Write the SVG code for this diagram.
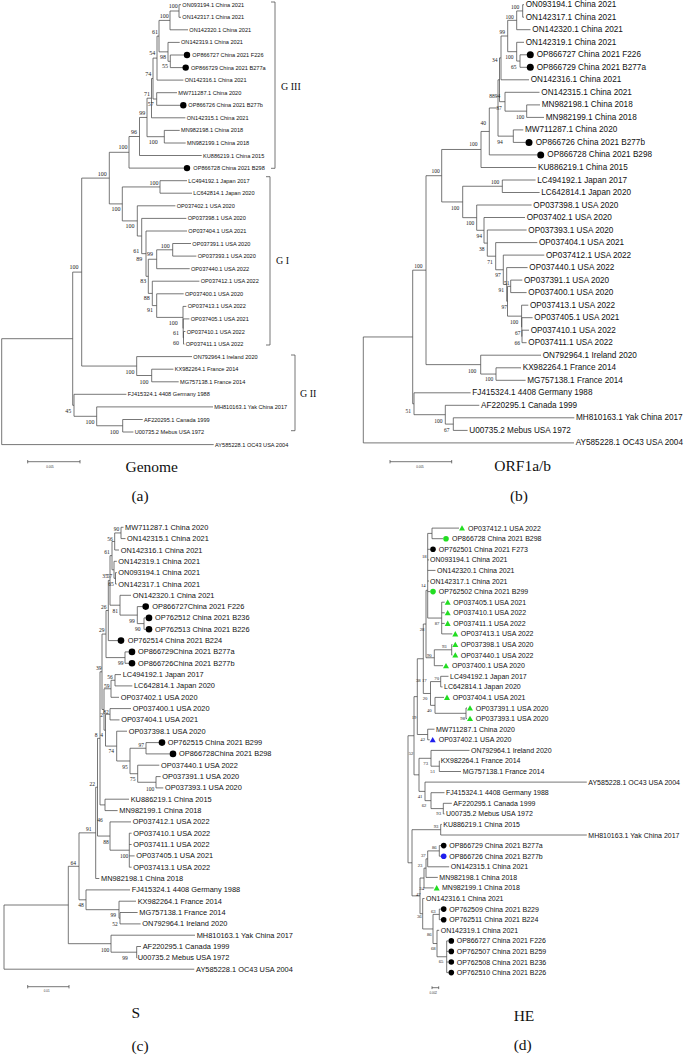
<svg xmlns="http://www.w3.org/2000/svg" width="685" height="1055" viewBox="0 0 685 1055">
<style>
.t{fill:none;stroke:#4a4a4a;stroke-width:0.75}
.la,.lb,.lc,.ld{font-family:"Liberation Sans",Arial,sans-serif;fill:#111;dominant-baseline:central}
.la{font-size:5.6px}.lb{font-size:8.2px}.lc{font-size:7.4px}.ld{font-size:7px}
.bs{font-family:"Liberation Serif","Times New Roman",serif;fill:#222;text-anchor:middle;dominant-baseline:central}
.ba{font-size:6px}.bb{font-size:5.5px}.bc{font-size:5.5px}.bd{font-size:4.7px}
.cap{font-family:"Liberation Serif","Times New Roman",serif;font-size:15.5px;fill:#111;text-anchor:middle;dominant-baseline:central}
.grp{font-family:"Liberation Serif","Times New Roman",serif;font-size:10px;fill:#111;dominant-baseline:central}
.sc{font-family:"Liberation Sans",Arial,sans-serif;font-size:3px;fill:#333;text-anchor:middle;dominant-baseline:central}
.k{fill:#000}.g{fill:#22dd22}.bl{fill:#1f1fee}
</style>
<defs><path id="tri" d="M0-2.8L3 2.5H-3Z"/></defs>
<rect width="685" height="1055" fill="#fff"/>

<g id="connectors">
<path class="t" d="M179 4.7V17.3M179 4.7H181M179 17.3H181M170 11V29.8M170 11H179M170 29.8H188M170.3 55V67.6M170.3 55H184M170.3 67.6H183M168 42.4V61.3M168 42.4H179.7M168 61.3H170.3M159 20.4V51.85M159 20.4H170M159 51.85H168M157 36.1V80.1M157 36.1H159M157 80.1H183.4M156.7 92.7V105.3M156.7 92.7H177M156.7 105.3H180.5M153 58.1V99M153 58.1H157M153 99H156.7M151.5 78.55V117.8M151.5 78.55H153M151.5 117.8H185.4M164.3 130.4V143M164.3 130.4H179.7M164.3 143H185.7M147 98.2V136.7M147 98.2H151.5M147 136.7H164.3M139.5 117.45V155.5M139.5 117.45H147M139.5 155.5H201.7M129 136.5V168.1M129 136.5H139.5M129 168.1H184M160 180.7V193.2M160 180.7H187M160 193.2H192M172.7 243.5V256.1M172.7 243.5H191M172.7 256.1H196.4M156.7 249.8V268.7M156.7 249.8H172.7M156.7 268.7H189.7M183.5 331.5V344.1M183.5 331.5H185.4M183.5 344.1H184.4M183.2 318.9V337.8M183.2 318.9H189.4M183.2 337.8H183.5M183 306.4V328.35M183 306.4H186.4M183 328.35H183.2M156.7 293.8V317.4M156.7 293.8H183.7M156.7 317.4H183M152.3 281.2V305.6M152.3 281.2H199.4M152.3 305.6H156.7M148.3 259.25V293.4M148.3 259.25H156.7M148.3 293.4H152.3M146 231V276.3M146 231H187M146 276.3H148.3M141.7 218.4V253.65M141.7 218.4H186.4M141.7 253.65H146M137.3 205.8V236M137.3 205.8H175.4M137.3 236H141.7M122.3 186.95V220.9M122.3 186.95H160M122.3 220.9H137.3M109.3 152.3V203.9M109.3 152.3H129M109.3 203.9H122.3M151.7 369.2V381.8M151.7 369.2H173.4M151.7 381.8H178.7M136.7 356.6V375.5M136.7 356.6H192M136.7 375.5H151.7M81.7 178.1V366.05M81.7 178.1H109.3M81.7 366.05H136.7M122.7 419.5V432M122.7 419.5H142.7M122.7 432H133.4M96.7 406.9V425.75M96.7 406.9H213M96.7 425.75H122.7M74 394.3V416.3M74 394.3H126.4M74 416.3H96.7M72.7 272.1V405.3M72.7 272.1H81.7M72.7 405.3H74M1.7 338.7V444.6M1.7 338.7H72.7M1.7 444.6H213.7"/>
<path class="t" d="M271 2H275V168.3H271M266 176.7H270V345H266M291 355H295V430.7H291"/>
<path class="t" d="M27.7 461.7H80M27.7 460V463.4M80 460V463.4"/>

<path class="t" d="M522.7 4.7V17.2M522.7 4.7H524M522.7 17.2H524M516.7 10.95V29.7M516.7 10.95H522.7M516.7 29.7H530.5M520 54.8V67.3M520 54.8H527M520 67.3H527M516.7 42.3V61.05M516.7 42.3H524M516.7 61.05H520M507.7 20.33V51.68M507.7 20.33H516.7M507.7 51.68H516.7M501 36V79.8M501 36H507.7M501 79.8H529M526.7 104.9V117.4M526.7 104.9H540M526.7 117.4H544M505 92.3V111.15M505 92.3H539.5M505 111.15H526.7M499.5 57.9V101.7M499.5 57.9H501M499.5 101.7H505M513.3 129.9V142.4M513.3 129.9H523.3M513.3 142.4H525.7M498 79.8V136.15M498 79.8H499.5M498 136.15H513.3M489.3 107.98V154.9M489.3 107.98H498M489.3 154.9H537.4M481 131.44V167.5M481 131.44H489.3M481 167.5H536.3M502.3 180V192.5M502.3 180H535.6M502.3 192.5H539.6M522 330.2V342.7M522 330.2H529M522 342.7H526.6M521.8 317.7V336.45M521.8 317.7H532.6M521.8 336.45H522M521.6 305.2V327.1M521.6 305.2H528.3M521.6 327.1H521.8M510.7 280.1V292.6M510.7 280.1H522.3M510.7 292.6H526.6M507.5 286.35V316.15M507.5 286.35H510.7M507.5 316.15H521.6M506.7 267.6V301.25M506.7 267.6H527.6M506.7 301.25H507.5M503.3 255.1V284.4M503.3 255.1H544.3M503.3 284.4H506.7M495.7 242.6V269.75M495.7 242.6H537.3M495.7 269.75H503.3M487.3 230V256.2M487.3 230H526.6M487.3 256.2H495.7M484 217.5V243.1M484 217.5H525M484 243.1H487.3M476.7 205V230.3M476.7 205H531.6M476.7 230.3H484M462.7 186.25V217.65M462.7 186.25H502.3M462.7 217.65H476.7M441.7 149.47V201.95M441.7 149.47H481M441.7 201.95H462.7M496 367.8V380.3M496 367.8H521M496 380.3H525.6M480.7 355.2V374.05M480.7 355.2H541M480.7 374.05H496M426 175.71V364.63M426 175.71H441.7M426 364.63H480.7M453.3 417.8V430.4M453.3 417.8H574.3M453.3 430.4H467.6M445.3 405.3V424.1M445.3 405.3H479.3M445.3 424.1H453.3M414 392.8V414.7M414 392.8H470.6M414 414.7H445.3M412.7 270.17V403.75M412.7 270.17H426M412.7 403.75H414M363.3 336.96V442.9M363.3 336.96H412.7M363.3 442.9H574"/>
<path class="t" d="M390 461.7H451.7M390 460V463.4M451.7 460V463.4"/>

<path class="t" d="M121 527.3V538.6M121 527.3H123.5M121 538.6H125.5M114.7 532.95V550M114.7 532.95H121M114.7 550H119M115.5 572.6V584M115.5 572.6H116.8M115.5 584H116.8M114 561.3V578.3M114 561.3H116.8M114 578.3H115.5M112 541.48V569.8M112 541.48H114.7M112 569.8H114M144 617.9V629.3M144 617.9H146M144 629.3H146M137.3 606.6V623.6M137.3 606.6H142.7M137.3 623.6H144M120 595.3V615.1M120 595.3H131M120 615.1H137.3M110 555.64V605.2M110 555.64H112M110 605.2H120M108.3 580.42V640.6M108.3 580.42H110M108.3 640.6H118M125 651.9V663.3M125 651.9H129M125 663.3H129M106 610.51V657.6M106 610.51H108.3M106 657.6H125M115 674.6V685.9M115 674.6H121M115 685.9H132.3M111 680.25V697.3M111 680.25H115M111 697.3H119M110 708.6V719.9M110 708.6H131M110 719.9H119.5M156 776.6V787.9M156 776.6H160.6M156 787.9H163.3M137.7 765.2V782.25M137.7 765.2H159.3M137.7 782.25H156M146 742.6V753.9M146 742.6H159M146 753.9H170M130 748.25V773.73M130 748.25H146M130 773.73H137.7M116.7 731.2V760.99M116.7 731.2H127M116.7 760.99H130M105.5 714.25V746.1M105.5 714.25H110M105.5 746.1H116.7M104 688.78V730.17M104 688.78H111M104 730.17H105.5M102 634.06V709.48M102 634.06H106M102 709.48H104M105 799.2V810.6M105 799.2H129M105 810.6H117.6M100 671.77V804.9M100 671.77H102M100 804.9H105M129.3 833.2V867.2M129.3 833.2H131.6M129.3 844.5H131.6M129.3 855.9H134.6M129.3 867.2H131.6M110 821.9V850.2M110 821.9H131M110 850.2H129.3M97.5 738.34V836.05M97.5 738.34H100M97.5 836.05H110M95.7 787.2V878.5M95.7 787.2H97.5M95.7 878.5H99.3M120 912.5V923.9M120 912.5H137.6M120 923.9H140.6M119 901.2V918.2M119 901.2H136M119 918.2H120M86 889.9V909.7M86 889.9H130M86 909.7H119M79 832.85V899.8M79 832.85H95.7M79 899.8H86M136.7 946.5V957.9M136.7 946.5H141M136.7 957.9H137.3M111 935.2V952.2M111 935.2H195M111 952.2H136.7M68.3 866.3V943.7M68.3 866.3H79M68.3 943.7H111M4 905V969.2M4 905H68.3M4 969.2H194.3"/>
<path class="t" d="M27.7 986.7H69M27.7 985V988.4M69 985V988.4"/>

<path class="t" d="M432 528.1V538.7M432 528.1H459M432 538.7H443M427.7 533.4V618.05M427.7 533.4H432M427.7 549.3H430M427.7 559.9H429M427.7 570.4H435.5M427.7 581H429M427.7 591.6H430M441.7 602.2V633.9M441.7 602.2H444.7M441.7 612.8H444.7M441.7 623.4H444.7M441.7 633.9H452.3M427.7 618.05H441.7M451.7 644.5V655.1M451.7 644.5H452.3M451.7 655.1H452.3M434.3 649.8V665.7M434.3 649.8H451.7M434.3 665.7H443M426 590.3V657.75M426 590.3H427.7M426 657.75H434.3M440.7 676.3V686.9M440.7 676.3H448.5M440.7 686.9H442.5M466 708V718.6M466 708H467M466 718.6H467M435 697.4V713.3M435 697.4H444M435 713.3H466M430.5 681.6V705.35M430.5 681.6H440.7M430.5 705.35H435M423.3 624.02V693.48M423.3 624.02H426M423.3 693.48H430.5M427.7 729.2V739.8M427.7 729.2H434.5M427.7 739.8H429.7M417.3 658.75V734.5M417.3 658.75H423.3M417.3 734.5H427.7M439.3 760.9V771.5M439.3 760.9H439.6M439.3 771.5H461M431 750.4V766.2M431 750.4H469.5M431 766.2H439.3M443.3 803.3V813.9M443.3 803.3H451.8M443.3 813.9H444.5M431 792.7V808.6M431 792.7H444.5M431 808.6H443.3M425 782.1V800.65M425 782.1H586.8M425 800.65H431M419 758.3V791.38M419 758.3H431M419 791.38H425M414 696.63V774.84M414 696.63H417.3M414 774.84H419M440.7 824.4V835M440.7 824.4H441.8M440.7 835H586.8M439.3 845.6V856.2M439.3 845.6H440.9M439.3 856.2H440.9M427.7 850.9V866.8M427.7 850.9H439.3M427.7 866.8H449.2M426 858.85V877.4M426 858.85H427.7M426 877.4H437.8M424 868.13V887.9M424 868.13H426M424 887.9H433.7M439.3 909.1V919.7M439.3 909.1H440.9M439.3 919.7H440.9M446.7 940.9V972.6M446.7 940.9H448.5M446.7 951.4H448.5M446.7 962H448.5M446.7 972.6H448.5M437 930.3V956.75M437 930.3H439.2M437 956.75H446.7M433 914.4V943.53M433 914.4H439.3M433 943.53H437M422.7 898.5V928.96M422.7 898.5H424.5M422.7 928.96H433M420 878.02V913.73M420 878.02H424M420 913.73H422.7M412 829.7V895.87M412 829.7H440.7M412 895.87H420M408 735.74V862.79M408 735.74H414M408 862.79H412"/>
<path class="t" d="M432 987.7H438.7M432 986.3V989.1M438.7 986.3V989.1"/>
</g>

<g id="panel-a">
<g id="a1"><text class="la" x="182.3" y="4.7">ON093194.1 China 2021</text></g>
<g id="a2"><text class="la" x="182.3" y="17.3">ON142317.1 China 2021</text></g>
<g id="a3"><text class="la" x="189.3" y="29.8">ON142320.1 China 2021</text></g>
<g id="a4"><text class="la" x="181" y="42.4">ON142319.1 China 2021</text></g>
<g id="a5"><circle class="k" cx="187" cy="55" r="3.2"/><text class="la" x="192.3" y="55">OP866727 China 2021 F226</text></g>
<g id="a6"><circle class="k" cx="185.7" cy="67.6" r="3.2"/><text class="la" x="191" y="67.6">OP866729 China 2021 B277a</text></g>
<g id="a7"><text class="la" x="184.7" y="80.1">ON142316.1 China 2021</text></g>
<g id="a8"><text class="la" x="178.3" y="92.7">MW711287.1 China 2020</text></g>
<g id="a9"><circle class="k" cx="183.3" cy="105.3" r="3.2"/><text class="la" x="188.3" y="105.3">OP866726 China 2021 B277b</text></g>
<g id="a10"><text class="la" x="186.7" y="117.8">ON142315.1 China 2021</text></g>
<g id="a11"><text class="la" x="181" y="130.4">MN982198.1 China 2018</text></g>
<g id="a12"><text class="la" x="187" y="143">MN982199.1 China 2018</text></g>
<g id="a13"><text class="la" x="203" y="155.5">KU886219.1 China 2015</text></g>
<g id="a14"><circle class="k" cx="187" cy="168.1" r="3.2"/><text class="la" x="193.3" y="168.1">OP866728 China 2021 B298</text></g>
<g id="a15"><text class="la" x="188.3" y="180.7">LC494192.1 Japan 2017</text></g>
<g id="a16"><text class="la" x="193.3" y="193.2">LC642814.1 Japan 2020</text></g>
<g id="a17"><text class="la" x="176.7" y="205.8">OP037402.1 USA 2020</text></g>
<g id="a18"><text class="la" x="187.7" y="218.4">OP037398.1 USA 2020</text></g>
<g id="a19"><text class="la" x="188.3" y="231">OP037404.1 USA 2021</text></g>
<g id="a20"><text class="la" x="192.3" y="243.5">OP037391.1 USA 2020</text></g>
<g id="a21"><text class="la" x="197.7" y="256.1">OP037393.1 USA 2020</text></g>
<g id="a22"><text class="la" x="191" y="268.7">OP037440.1 USA 2022</text></g>
<g id="a23"><text class="la" x="200.7" y="281.2">OP037412.1 USA 2022</text></g>
<g id="a24"><text class="la" x="185" y="293.8">OP037400.1 USA 2020</text></g>
<g id="a25"><text class="la" x="187.7" y="306.4">OP037413.1 USA 2022</text></g>
<g id="a26"><text class="la" x="190.7" y="318.9">OP037405.1 USA 2021</text></g>
<g id="a27"><text class="la" x="186.7" y="331.5">OP037410.1 USA 2022</text></g>
<g id="a28"><text class="la" x="185.7" y="344.1">OP037411.1 USA 2022</text></g>
<g id="a29"><text class="la" x="193.3" y="356.6">ON792964.1 Ireland 2020</text></g>
<g id="a30"><text class="la" x="174.7" y="369.2">KX982264.1 France 2014</text></g>
<g id="a31"><text class="la" x="180" y="381.8">MG757138.1 France 2014</text></g>
<g id="a32"><text class="la" x="127.7" y="394.3">FJ415324.1 4408 Germany 1988</text></g>
<g id="a33"><text class="la" x="214.3" y="406.9">MH810163.1 Yak China 2017</text></g>
<g id="a34"><text class="la" x="144" y="419.5">AF220295.1 Canada 1999</text></g>
<g id="a35"><text class="la" x="134.7" y="432">U00735.2 Mebus USA 1972</text></g>
<g id="a36"><text class="la" x="215" y="444.6">AY585228.1 OC43 USA 2004</text></g>
<g id="a-boot" class="bs ba">
<text x="173.3" y="6">100</text><text x="164.3" y="15.7">100</text><text x="155" y="31.7">61</text><text x="152.3" y="53.3">54</text><text x="163" y="56.7">98</text><text x="165" y="65.7">55</text><text x="148.3" y="74">74</text><text x="147" y="94.3">71</text><text x="150.7" y="104.3">57</text><text x="142.3" y="113">99</text><text x="153.3" y="142.3">100</text><text x="134" y="132">96</text><text x="123" y="147.3">100</text><text x="102.3" y="173.7">100</text><text x="154" y="182.7">100</text><text x="116" y="209">100</text><text x="130" y="226.3">100</text><text x="136.3" y="250.7">61</text><text x="150" y="254.3">99</text><text x="139.3" y="258.7">89</text><text x="165.3" y="246">100</text><text x="143.3" y="280.7">83</text><text x="146.7" y="297.7">88</text><text x="150" y="310">91</text><text x="173.3" y="323">100</text><text x="176" y="333.3">61</text><text x="176" y="342.7">60</text><text x="74" y="267.3">100</text><text x="130" y="371.7">100</text><text x="144" y="381.7">100</text><text x="68.3" y="411">45</text><text x="90" y="421.7">100</text><text x="114.3" y="431.7">100</text>
</g>
<g id="a-groups"><text class="grp" x="281" y="86">G III</text><text class="grp" x="276" y="260">G I</text><text class="grp" x="300" y="393">G II</text></g>
<text class="sc" x="50" y="466.7">0.005</text>
<text class="cap" x="151.7" y="466.7">Genome</text>
<text class="cap" x="140" y="495">(a)</text>
</g>

<g id="panel-b">
<g id="b1"><text class="lb" x="525.7" y="4.7">ON093194.1 China 2021</text></g>
<g id="b2"><text class="lb" x="525.7" y="17.2">ON142317.1 China 2021</text></g>
<g id="b3"><text class="lb" x="532.3" y="29.7">ON142320.1 China 2021</text></g>
<g id="b4"><text class="lb" x="525.7" y="42.3">ON142319.1 China 2021</text></g>
<g id="b5"><circle class="k" cx="530.3" cy="54.8" r="3.5"/><text class="lb" x="536.7" y="54.8">OP866727 China 2021 F226</text></g>
<g id="b6"><circle class="k" cx="530.3" cy="67.3" r="3.5"/><text class="lb" x="536.7" y="67.3">OP866729 China 2021 B277a</text></g>
<g id="b7"><text class="lb" x="530.7" y="79.8">ON142316.1 China 2021</text></g>
<g id="b8"><text class="lb" x="541.3" y="92.3">ON142315.1 China 2021</text></g>
<g id="b9"><text class="lb" x="541.7" y="104.9">MN982198.1 China 2018</text></g>
<g id="b10"><text class="lb" x="545.7" y="117.4">MN982199.1 China 2018</text></g>
<g id="b11"><text class="lb" x="525" y="129.9">MW711287.1 China 2020</text></g>
<g id="b12"><circle class="k" cx="529" cy="142.4" r="3.5"/><text class="lb" x="535.7" y="142.4">OP866726 China 2021 B277b</text></g>
<g id="b13"><circle class="k" cx="540.7" cy="154.9" r="3.5"/><text class="lb" x="547.3" y="154.9">OP866728 China 2021 B298</text></g>
<g id="b14"><text class="lb" x="538" y="167.5">KU886219.1 China 2015</text></g>
<g id="b15"><text class="lb" x="537.3" y="180">LC494192.1 Japan 2017</text></g>
<g id="b16"><text class="lb" x="541.3" y="192.5">LC642814.1 Japan 2020</text></g>
<g id="b17"><text class="lb" x="533.3" y="205">OP037398.1 USA 2020</text></g>
<g id="b18"><text class="lb" x="526.7" y="217.5">OP037402.1 USA 2020</text></g>
<g id="b19"><text class="lb" x="528.3" y="230">OP037393.1 USA 2020</text></g>
<g id="b20"><text class="lb" x="539" y="242.6">OP037404.1 USA 2021</text></g>
<g id="b21"><text class="lb" x="546" y="255.1">OP037412.1 USA 2022</text></g>
<g id="b22"><text class="lb" x="529.3" y="267.6">OP037440.1 USA 2022</text></g>
<g id="b23"><text class="lb" x="524" y="280.1">OP037391.1 USA 2020</text></g>
<g id="b24"><text class="lb" x="528.3" y="292.6">OP037400.1 USA 2020</text></g>
<g id="b25"><text class="lb" x="530" y="305.2">OP037413.1 USA 2022</text></g>
<g id="b26"><text class="lb" x="534.3" y="317.7">OP037405.1 USA 2021</text></g>
<g id="b27"><text class="lb" x="530.7" y="330.2">OP037410.1 USA 2022</text></g>
<g id="b28"><text class="lb" x="528.3" y="342.7">OP037411.1 USA 2022</text></g>
<g id="b29"><text class="lb" x="542.7" y="355.2">ON792964.1 Ireland 2020</text></g>
<g id="b30"><text class="lb" x="522.7" y="367.8">KX982264.1 France 2014</text></g>
<g id="b31"><text class="lb" x="527.3" y="380.3">MG757138.1 France 2014</text></g>
<g id="b32"><text class="lb" x="472.3" y="392.8">FJ415324.1 4408 Germany 1988</text></g>
<g id="b33"><text class="lb" x="481" y="405.3">AF220295.1 Canada 1999</text></g>
<g id="b34"><text class="lb" x="576" y="417.8">MH810163.1 Yak China 2017</text></g>
<g id="b35"><text class="lb" x="469.3" y="430.4">U00735.2 Mebus USA 1972</text></g>
<g id="b36"><text class="lb" x="575.7" y="442.9">AY585228.1 OC43 USA 2004</text></g>
<g id="b-boot" class="bs bb">
<text x="515" y="6.7">100</text><text x="509.7" y="16.7">100</text><text x="502.3" y="32">99</text><text x="494.7" y="59.7">34</text><text x="509.3" y="57.3">100</text><text x="513.7" y="66.7">65</text><text x="492" y="95.7">88</text><text x="497.5" y="95.7">94</text><text x="499" y="107.7">37</text><text x="520" y="116.7">100</text><text x="483.3" y="123.3">40</text><text x="500" y="141.7">94</text><text x="473.3" y="144">100</text><text x="435.7" y="170.7">100</text><text x="495" y="182.3">100</text><text x="455" y="207.7">100</text><text x="470" y="223.3">100</text><text x="479.3" y="236">94</text><text x="481.7" y="248.7">38</text><text x="490" y="262">71</text><text x="498" y="275.3">97</text><text x="506.7" y="283.3">51</text><text x="501.3" y="290.3">91</text><text x="504.3" y="307">97</text><text x="514" y="321.7">100</text><text x="517.7" y="333">67</text><text x="517.3" y="343.3">66</text><text x="418.3" y="266">100</text><text x="472" y="370.7">100</text><text x="489" y="379.3">100</text><text x="408.3" y="411">51</text><text x="438.3" y="421">100</text><text x="446.7" y="430">67</text>
</g>
<text class="sc" x="420" y="467">0.005</text>
<text class="cap" x="522.7" y="465">ORF1a/b</text>
<text class="cap" x="519" y="495">(b)</text>
</g>

<g id="panel-c">
<g id="c1"><text class="lc" x="125" y="527.3">MW711287.1 China 2020</text></g>
<g id="c2"><text class="lc" x="127" y="538.6">ON142315.1 China 2021</text></g>
<g id="c3"><text class="lc" x="120.7" y="550">ON142316.1 China 2021</text></g>
<g id="c4"><text class="lc" x="118.3" y="561.3">ON142319.1 China 2021</text></g>
<g id="c5"><text class="lc" x="118.3" y="572.6">ON093194.1 China 2021</text></g>
<g id="c6"><text class="lc" x="118.3" y="584">ON142317.1 China 2021</text></g>
<g id="c7"><text class="lc" x="132.7" y="595.3">ON142320.1 China 2021</text></g>
<g id="c8"><circle class="k" cx="145.7" cy="606.6" r="3.3"/><text class="lc" x="152.3" y="606.6">OP866727China 2021 F226</text></g>
<g id="c9"><circle class="k" cx="149" cy="617.9" r="3.3"/><text class="lc" x="155" y="617.9">OP762512 China 2021 B236</text></g>
<g id="c10"><circle class="k" cx="149" cy="629.3" r="3.3"/><text class="lc" x="155" y="629.3">OP762513 China 2021 B226</text></g>
<g id="c11"><circle class="k" cx="121" cy="640.6" r="3.3"/><text class="lc" x="127.7" y="640.6">OP762514 China 2021 B224</text></g>
<g id="c12"><circle class="k" cx="132" cy="651.9" r="3.3"/><text class="lc" x="138" y="651.9">OP866729China 2021 B277a</text></g>
<g id="c13"><circle class="k" cx="132" cy="663.3" r="3.3"/><text class="lc" x="138" y="663.3">OP866726China 2021 B277b</text></g>
<g id="c14"><text class="lc" x="122.7" y="674.6">LC494192.1 Japan 2017</text></g>
<g id="c15"><text class="lc" x="134" y="685.9">LC642814.1 Japan 2020</text></g>
<g id="c16"><text class="lc" x="120.7" y="697.3">OP037402.1 USA 2020</text></g>
<g id="c17"><text class="lc" x="132.7" y="708.6">OP037400.1 USA 2020</text></g>
<g id="c18"><text class="lc" x="121.2" y="719.9">OP037404.1 USA 2021</text></g>
<g id="c19"><text class="lc" x="128.7" y="731.2">OP037398.1 USA 2020</text></g>
<g id="c20"><circle class="k" cx="162" cy="742.6" r="3.3"/><text class="lc" x="167.7" y="742.6">OP762515 China 2021 B299</text></g>
<g id="c21"><circle class="k" cx="173" cy="753.9" r="3.3"/><text class="lc" x="179" y="753.9">OP866728China 2021 B298</text></g>
<g id="c22"><text class="lc" x="161" y="765.2">OP037440.1 USA 2022</text></g>
<g id="c23"><text class="lc" x="162.3" y="776.6">OP037391.1 USA 2020</text></g>
<g id="c24"><text class="lc" x="165" y="787.9">OP037393.1 USA 2020</text></g>
<g id="c25"><text class="lc" x="130.7" y="799.2">KU886219.1 China 2015</text></g>
<g id="c26"><text class="lc" x="119.3" y="810.6">MN982199.1 China 2018</text></g>
<g id="c27"><text class="lc" x="132.7" y="821.9">OP037412.1 USA 2022</text></g>
<g id="c28"><text class="lc" x="133.3" y="833.2">OP037410.1 USA 2022</text></g>
<g id="c29"><text class="lc" x="133.3" y="844.5">OP037411.1 USA 2022</text></g>
<g id="c30"><text class="lc" x="136.3" y="855.9">OP037405.1 USA 2021</text></g>
<g id="c31"><text class="lc" x="133.3" y="867.2">OP037413.1 USA 2022</text></g>
<g id="c32"><text class="lc" x="101" y="878.5">MN982198.1 China 2018</text></g>
<g id="c33"><text class="lc" x="131.7" y="889.9">FJ415324.1 4408 Germany 1988</text></g>
<g id="c34"><text class="lc" x="137.7" y="901.2">KX982264.1 France 2014</text></g>
<g id="c35"><text class="lc" x="139.3" y="912.5">MG757138.1 France 2014</text></g>
<g id="c36"><text class="lc" x="142.3" y="923.9">ON792964.1 Ireland 2020</text></g>
<g id="c37"><text class="lc" x="196.7" y="935.2">MH810163.1 Yak China 2017</text></g>
<g id="c38"><text class="lc" x="142.7" y="946.5">AF220295.1 Canada 1999</text></g>
<g id="c39"><text class="lc" x="137.7" y="957.9">U00735.2 Mebus USA 1972</text></g>
<g id="c40"><text class="lc" x="196" y="969.2">AY585228.1 OC43 USA 2004</text></g>
<g id="c-boot" class="bs bc">
<text x="116.5" y="529">90</text><text x="110" y="538.5">56</text><text x="107" y="552.3">61</text><text x="105" y="575.7">35</text><text x="109.5" y="575.7">57</text><text x="111" y="583.7">65</text><text x="103.7" y="607">26</text><text x="115.3" y="610.7">81</text><text x="132" y="620.7">99</text><text x="137.7" y="629.3">90</text><text x="101.7" y="630">29</text><text x="120.7" y="662.7">99</text><text x="98.7" y="668">39</text><text x="110" y="676.7">56</text><text x="106.7" y="685.7">59</text><text x="106" y="711.7">82</text><text x="101.5" y="714.5">2</text><text x="101.7" y="735">4</text><text x="96" y="735">8</text><text x="111.3" y="751">74</text><text x="141.3" y="744.7">97</text><text x="125" y="766.7">95</text><text x="132.7" y="779">75</text><text x="150" y="788.7">100</text><text x="92.3" y="784">22</text><text x="100" y="820">46</text><text x="88.7" y="829">91</text><text x="106" y="841.7">88</text><text x="124" y="855.7">100</text><text x="73.3" y="863.3">64</text><text x="81" y="904.7">48</text><text x="113.3" y="915.3">99</text><text x="115" y="924">52</text><text x="105" y="950">100</text><text x="125" y="958.3">99</text>
</g>
<text class="sc" x="46.7" y="991">0.01</text>
<text class="cap" x="135.7" y="1012.7">S</text>
<text class="cap" x="140" y="1045">(c)</text>
</g>

<g id="panel-d">
<g id="d1"><use href="#tri" class="g" x="462" y="528.1"/><text class="ld" x="468" y="528.1">OP037412.1 USA 2022</text></g>
<g id="d2"><circle class="g" cx="446" cy="538.7" r="2.8"/><text class="ld" x="452" y="538.7">OP866728 China 2021 B298</text></g>
<g id="d3"><circle class="k" cx="433" cy="549.3" r="2.8"/><text class="ld" x="438.7" y="549.3">OP762501 China 2021 F273</text></g>
<g id="d4"><text class="ld" x="430" y="559.9">ON093194.1 China 2021</text></g>
<g id="d5"><text class="ld" x="437" y="570.4">ON142320.1 China 2021</text></g>
<g id="d6"><text class="ld" x="430" y="581">ON142317.1 China 2021</text></g>
<g id="d7"><circle class="g" cx="433" cy="591.6" r="2.8"/><text class="ld" x="438.7" y="591.6">OP762502 China 2021 B299</text></g>
<g id="d8"><use href="#tri" class="g" x="447.7" y="602.2"/><text class="ld" x="453.3" y="602.2">OP037405.1 USA 2021</text></g>
<g id="d9"><use href="#tri" class="g" x="447.7" y="612.8"/><text class="ld" x="453.3" y="612.8">OP037410.1 USA 2022</text></g>
<g id="d10"><use href="#tri" class="g" x="447.7" y="623.4"/><text class="ld" x="453.3" y="623.4">OP037411.1 USA 2022</text></g>
<g id="d11"><use href="#tri" class="g" x="455.3" y="633.9"/><text class="ld" x="460.7" y="633.9">OP037413.1 USA 2022</text></g>
<g id="d12"><use href="#tri" class="g" x="455.3" y="644.5"/><text class="ld" x="460.7" y="644.5">OP037398.1 USA 2020</text></g>
<g id="d13"><use href="#tri" class="g" x="455.3" y="655.1"/><text class="ld" x="460.7" y="655.1">OP037440.1 USA 2022</text></g>
<g id="d14"><use href="#tri" class="g" x="446" y="665.7"/><text class="ld" x="452" y="665.7">OP037400.1 USA 2020</text></g>
<g id="d15"><text class="ld" x="450" y="676.3">LC494192.1 Japan 2017</text></g>
<g id="d16"><text class="ld" x="444" y="686.9">LC642814.1 Japan 2020</text></g>
<g id="d17"><use href="#tri" class="g" x="447" y="697.4"/><text class="ld" x="452.7" y="697.4">OP037404.1 USA 2021</text></g>
<g id="d18"><use href="#tri" class="g" x="470" y="708"/><text class="ld" x="475.7" y="708">OP037391.1 USA 2020</text></g>
<g id="d19"><use href="#tri" class="g" x="470" y="718.6"/><text class="ld" x="475.7" y="718.6">OP037393.1 USA 2020</text></g>
<g id="d20"><text class="ld" x="436" y="729.2">MW711287.1 China 2020</text></g>
<g id="d21"><use href="#tri" class="bl" x="432.7" y="739.8"/><text class="ld" x="438.7" y="739.8">OP037402.1 USA 2020</text></g>
<g id="d22"><text class="ld" x="471" y="750.4">ON792964.1 Ireland 2020</text></g>
<g id="d23"><text class="ld" x="440.7" y="760.9">KX982264.1 France 2014</text></g>
<g id="d24"><text class="ld" x="462.7" y="771.5">MG757138.1 France 2014</text></g>
<g id="d25"><text class="ld" x="588.3" y="782.1">AY585228.1 OC43 USA 2004</text></g>
<g id="d26"><text class="ld" x="446" y="792.7">FJ415324.1 4408 Germany 1988</text></g>
<g id="d27"><text class="ld" x="453.3" y="803.3">AF220295.1 Canada 1999</text></g>
<g id="d28"><text class="ld" x="446" y="813.9">U00735.2 Mebus USA 1972</text></g>
<g id="d29"><text class="ld" x="443.3" y="824.4">KU886219.1 China 2015</text></g>
<g id="d30"><text class="ld" x="588.3" y="835">MH810163.1 Yak China 2017</text></g>
<g id="d31"><circle class="k" cx="443.7" cy="845.6" r="2.8"/><text class="ld" x="449.3" y="845.6">OP866729 China 2021 B277a</text></g>
<g id="d32"><circle class="bl" cx="443.7" cy="856.2" r="2.8"/><text class="ld" x="449.3" y="856.2">OP866726 China 2021 B277b</text></g>
<g id="d33"><text class="ld" x="450.7" y="866.8">ON142315.1 China 2021</text></g>
<g id="d34"><text class="ld" x="439.3" y="877.4">MN982198.1 China 2018</text></g>
<g id="d35"><use href="#tri" class="g" x="436.7" y="887.9"/><text class="ld" x="442" y="887.9">MN982199.1 China 2018</text></g>
<g id="d36"><text class="ld" x="426" y="898.5">ON142316.1 China 2021</text></g>
<g id="d37"><circle class="k" cx="443.7" cy="909.1" r="2.8"/><text class="ld" x="449.3" y="909.1">OP762509 China 2021 B229</text></g>
<g id="d38"><circle class="k" cx="443.7" cy="919.7" r="2.8"/><text class="ld" x="449.3" y="919.7">OP762511 China 2021 B224</text></g>
<g id="d39"><text class="ld" x="440.7" y="930.3">ON142319.1 China 2021</text></g>
<g id="d40"><circle class="k" cx="451.3" cy="940.9" r="2.8"/><text class="ld" x="456.7" y="940.9">OP866727 China 2021 F226</text></g>
<g id="d41"><circle class="k" cx="451.3" cy="951.4" r="2.8"/><text class="ld" x="456.7" y="951.4">OP762507 China 2021 B259</text></g>
<g id="d42"><circle class="k" cx="451.3" cy="962" r="2.8"/><text class="ld" x="456.7" y="962">OP762508 China 2021 B236</text></g>
<g id="d43"><circle class="k" cx="451.3" cy="972.6" r="2.8"/><text class="ld" x="456.7" y="972.6">OP762510 China 2021 B226</text></g>
<g id="d-boot" class="bs bd">
<text x="424.3" y="556.7">18</text><text x="423.3" y="585.7">14</text><text x="437" y="623.3">87</text><text x="422" y="629.3">28</text><text x="444.3" y="646.7">93</text><text x="429.3" y="655">90</text><text x="436.7" y="678.3">70</text><text x="418.3" y="680">38</text><text x="424.3" y="680">17</text><text x="425" y="698.3">20</text><text x="429.3" y="710">40</text><text x="414" y="717.3">19</text><text x="462.7" y="718.3">98</text><text x="422.7" y="739.7">42</text><text x="411" y="753.3">52</text><text x="425.7" y="763.3">73</text><text x="432.7" y="771.3">51</text><text x="420" y="796.3">41</text><text x="424" y="805.3">62</text><text x="438.7" y="813.7">93</text><text x="436" y="826.7">93</text><text x="434.3" y="847.3">86</text><text x="423.3" y="855.7">37</text><text x="420" y="865.3">23</text><text x="421.7" y="888.7">34</text><text x="418.3" y="894.7">47</text><text x="433.3" y="911.7">63</text><text x="419.3" y="916">36</text><text x="429.3" y="934">86</text><text x="433.3" y="948.3">68</text><text x="441" y="961.7">65</text>
</g>
<text class="sc" x="433.3" y="993">0.002</text>
<text class="cap" x="524" y="1015">HE</text>
<text class="cap" x="522.7" y="1044.3">(d)</text>
</g>
</svg>
